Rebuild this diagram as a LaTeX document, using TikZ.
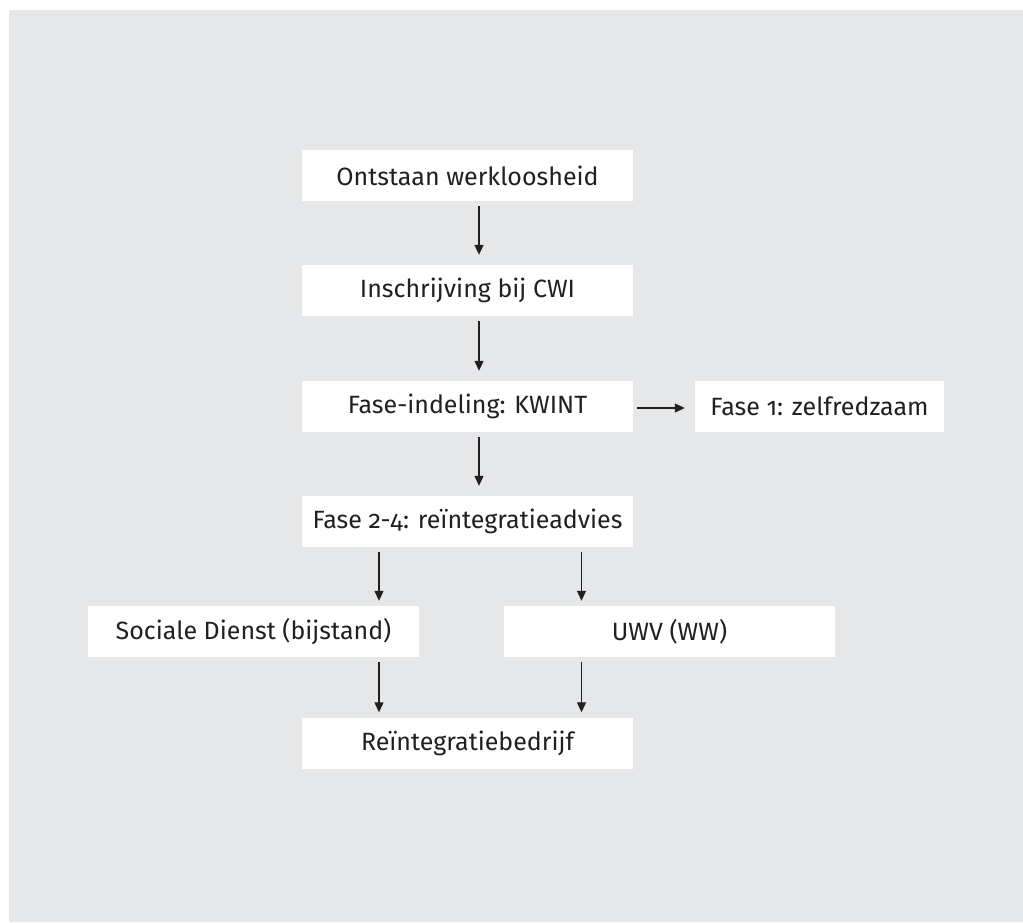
\documentclass[tikz,border=0pt]{standalone}
\usepackage{fontspec}
\setmainfont{Fira Sans}[Numbers=OldStyle]
\usetikzlibrary{arrows.meta}
\definecolor{panel}{HTML}{E6E7E8}
\definecolor{ink}{HTML}{231F20}
\tikzset{
  box/.style={rectangle, fill=white, minimum width=331pt, minimum height=51pt,
    inner sep=0pt, text=ink, font=\fontsize{25}{29}\selectfont},
  arr/.style={draw=ink, line width=1.2pt, -{Triangle[length=10pt,width=9pt]}}
}
\begin{document}
\begin{tikzpicture}[x=1pt,y=-1pt]
\useasboundingbox (0,0) rectangle (1023,922);
\fill[panel] (9,10) rectangle (1023,922);
\node[box] (b1) at (467.5,175.5) {Ontstaan werkloosheid};
\node[box] (b2) at (467.5,290.5) {Inschrijving bij CWI};
\node[box] (b3) at (467.5,406.5) {Fase-indeling: KWINT};
\node[box, minimum width=249pt] (f1) at (819.5,406.5) {Fase 1: zelfredzaam};
\node[box] (b4) at (467.5,521.5) {Fase 2-4: reïntegratieadvies};
\node[box] (sd) at (253.5,631.5) {Sociale Dienst (bijstand)};
\node[box] (uwv) at (669.5,631.5) {UWV (WW)};
\node[box] (rb) at (467.5,743) {Reïntegratiebedrijf};
\draw[arr, shorten <=5pt, shorten >=10pt] (479,0 |- b1.south) -- (479,0 |- b2.north);
\draw[arr, shorten <=5pt, shorten >=10pt] (479,0 |- b2.south) -- (479,0 |- b3.north);
\draw[arr, shorten <=5pt, shorten >=10pt] (479,0 |- b3.south) -- (479,0 |- b4.north);
\draw[arr, shorten <=4pt, shorten >=10pt] (b3.east |- 0,408) -- (f1.west |- 0,408);
\draw[arr, shorten <=5pt, shorten >=5pt] (379,0 |- b4.south) -- (379,0 |- sd.north);
\draw[arr, shorten <=5pt, shorten >=5pt] (581.5,0 |- b4.south) -- (581.5,0 |- uwv.north);
\draw[arr, shorten <=5pt, shorten >=5pt] (379,0 |- sd.south) -- (379,0 |- rb.north);
\draw[arr, shorten <=5pt, shorten >=5pt] (581.5,0 |- uwv.south) -- (581.5,0 |- rb.north);
\end{tikzpicture}
\end{document}
